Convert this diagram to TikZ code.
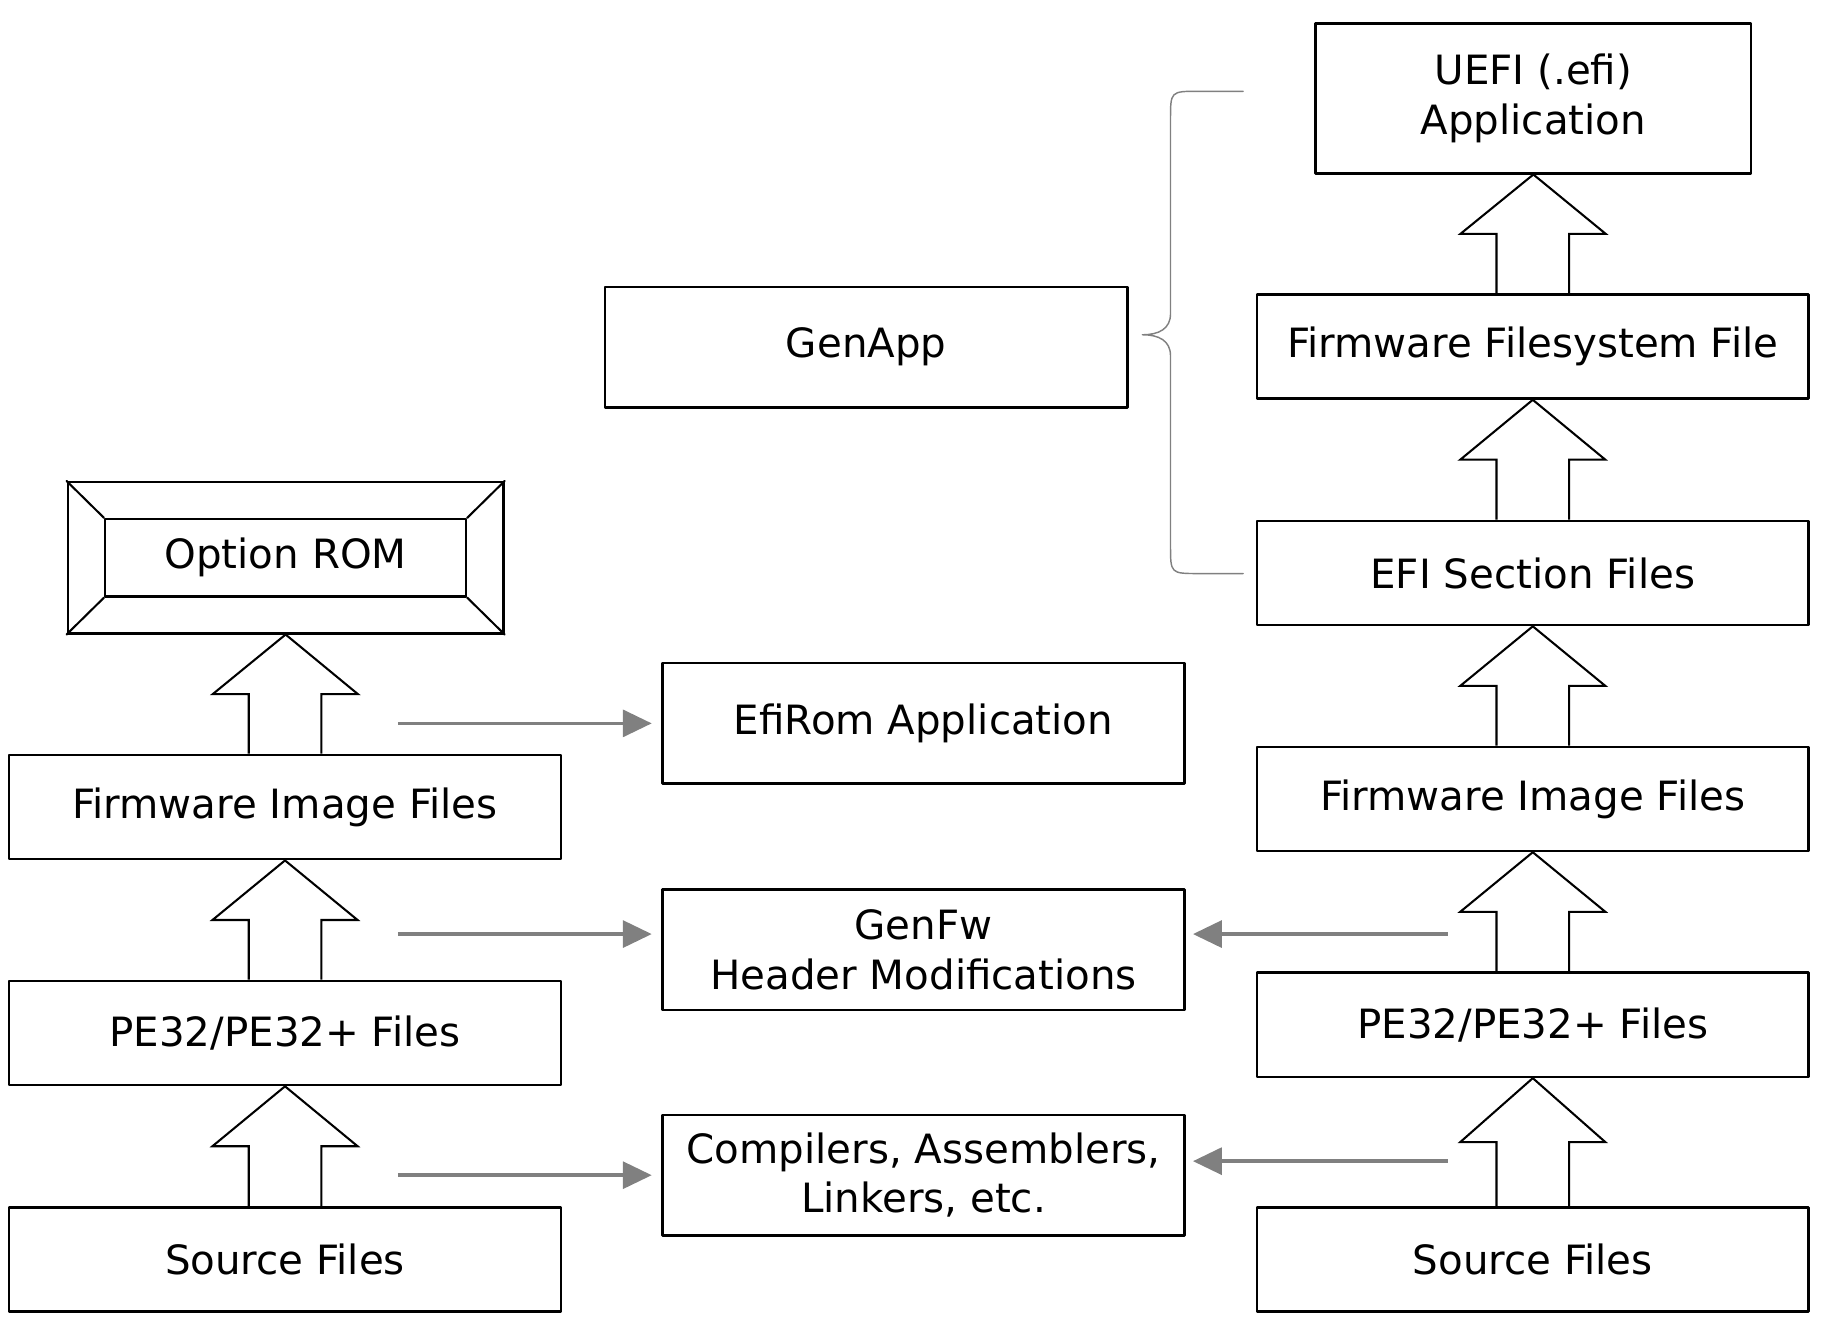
\documentclass[tikz,border=0pt]{standalone}
\usepackage{fontspec}
\setmainfont{DejaVu Sans}
\usetikzlibrary{arrows.meta,calc}

\newcommand{\blockarrow}[2]{%
  \path (#1.north) -- coordinate[pos=0.5] (mid) (#2.south);
  \draw[blk] ($(#1.north)+(-31,0)$) |- ($(mid)+(-62,0)$) -- (#2.south)
    -- ($(mid)+(62,0)$) -| ($(#1.north)+(31,0)$);
}

\begin{document}
\begin{tikzpicture}[line cap=round, line join=round, x=0.01cm, y=-0.01cm,
    box/.style={draw, line width=0.6pt, inner sep=0pt, align=center,
      font=\fontsize{9.8}{12}\selectfont},
    wide/.style={box, minimum width=4.71cm, minimum height=0.89cm},
    tool/.style={box, minimum width=4.46cm, minimum height=1.03cm},
    blk/.style={line width=0.5pt, line cap=butt, line join=miter},
    feed/.style={draw=gray, line width=0.9pt, line cap=butt,
      -{Triangle[length=7pt,width=6.5pt]}, shorten >=0.08cm},
    brace/.style={draw=gray, line width=0.35pt}]

    \useasboundingbox (0,0) rectangle (1560,1143);

    % left column
    \node[box, minimum width=3.72cm, minimum height=1.29cm] (rom) at (244,476.5) {};
    \node[box, minimum width=3.08cm, minimum height=0.66cm] (romin) at (rom.center) {Option ROM};
    \foreach \c in {north west, north east, south west, south east}
        \draw[line width=0.5pt] (rom.\c) -- (romin.\c);

    \node[wide] (fifL) at (243.5,689.5) {Firmware Image Files};
    \node[wide] (peL) at (243.5,882.5) {PE32/PE32+ Files};
    \node[wide] (srcL) at (243.5,1076) {Source Files};

    \blockarrow{fifL}{rom}
    \blockarrow{peL}{fifL}
    \blockarrow{srcL}{peL}

    % tools
    \node[tool] (genapp) at (740,296.5) {GenApp};
    \node[tool] (efirom) at (789,618) {EfiRom Application};
    \node[tool] (genfw) at (789,811.5) {GenFw\\Header Modifications};
    \node[tool] (cc) at (789,1004) {Compilers, Assemblers,\\Linkers, etc.};

    % right column
    \node[box, minimum width=3.72cm, minimum height=1.28cm] (uefi) at (1310,84) {UEFI (.efi)\\Application};
    \node[wide] (ffs) at (1309.5,296) {Firmware Filesystem File};
    \node[wide] (sec) at (1309.5,489.5) {EFI Section Files};
    \node[wide] (fifR) at (1309.5,682.5) {Firmware Image Files};
    \node[wide] (peR) at (1309.5,875.5) {PE32/PE32+ Files};
    \node[wide] (srcR) at (1309.5,1076) {Source Files};

    \blockarrow{ffs}{uefi}
    \blockarrow{sec}{ffs}
    \blockarrow{fifR}{sec}
    \blockarrow{peR}{fifR}
    \blockarrow{srcR}{peR}

    % gray arrows into the tools
    \coordinate (l1) at (340,618);
    \coordinate (l2) at (340,798);
    \coordinate (l3) at (340,1004);
    \coordinate (r2) at (1237,798);
    \coordinate (r3) at (1237,992);
    \draw[feed] (l1) -- (efirom.west |- l1);
    \draw[feed] (l2) -- (genfw.west |- l2);
    \draw[feed] (l3) -- (cc.west |- l3);
    \draw[feed, shorten >=0.06cm] (r2) -- (genfw.east |- r2);
    \draw[feed, shorten >=0.06cm] (r3) -- (cc.east |- r3);

    % brace for GenApp
    \coordinate (bt) at (1062,78);
    \coordinate (bb) at (1062,490);
    \draw[brace] (bt) -- (1024,78) .. controls (1000,78) .. (1000,102) -- (1000,268)
        .. controls (1000,281) and (990,286) .. (976,286)
        .. controls (990,286) and (1000,291) .. (1000,304) -- (1000,466)
        .. controls (1000,490) .. (1024,490) -- (bb);

\end{tikzpicture}
\end{document}
